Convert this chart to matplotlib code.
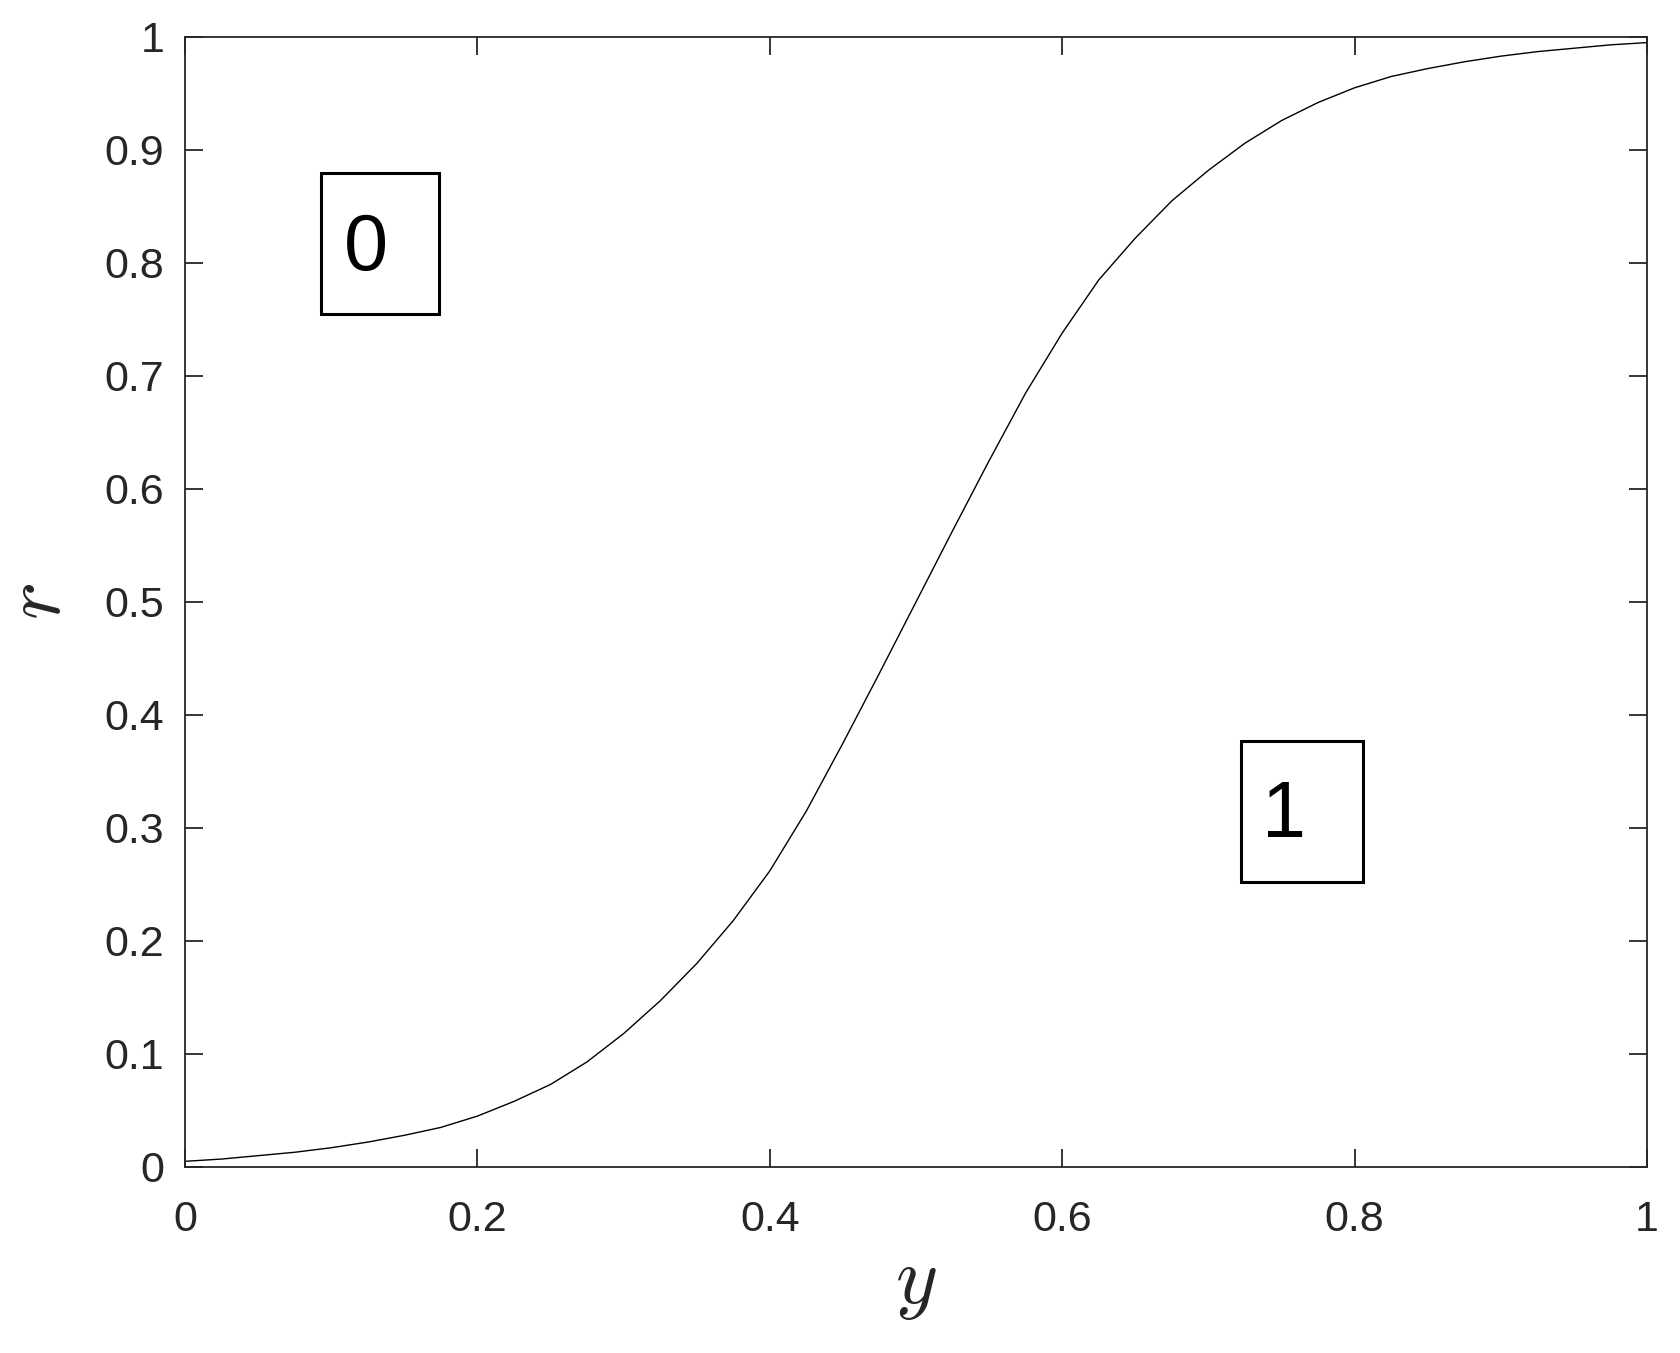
import matplotlib
matplotlib.use("Agg")
import matplotlib.pyplot as plt
from matplotlib.patches import Rectangle

# curve
y_vals = [0.0, 0.025, 0.05, 0.075, 0.1, 0.125, 0.15, 0.175, 0.2, 0.225, 0.25,
          0.275, 0.3, 0.325, 0.35, 0.375, 0.4, 0.425, 0.45, 0.475, 0.5, 0.525,
          0.55, 0.575, 0.6, 0.625, 0.65, 0.675, 0.7, 0.725, 0.75, 0.775, 0.8,
          0.825, 0.85, 0.875, 0.9, 0.925, 0.95, 0.975, 1.0]
r_vals = [0.005, 0.007, 0.010, 0.013, 0.017, 0.022, 0.028, 0.035, 0.045, 0.058,
          0.073, 0.093, 0.118, 0.147, 0.180, 0.218, 0.262, 0.315, 0.375, 0.437,
          0.500, 0.563, 0.625, 0.685, 0.738, 0.785, 0.822, 0.855, 0.882, 0.906,
          0.926, 0.942, 0.955, 0.965, 0.972, 0.978, 0.983, 0.987, 0.990, 0.993,
          0.995]

# region labels: text, box (x0, y0, x1, y1), text centre
region_text = ["0", "1"]
region_box = [(0.093, 0.755, 0.174, 0.880), (0.722, 0.252, 0.806, 0.377)]
region_pos = [(0.124, 0.812), (0.752, 0.310)]

ticks = [0, 0.1, 0.2, 0.3, 0.4, 0.5, 0.6, 0.7, 0.8, 0.9, 1]
xticks = [0, 0.2, 0.4, 0.6, 0.8, 1]

plt.rcParams["font.family"] = ["Liberation Sans", "DejaVu Sans"]
plt.rcParams["mathtext.fontset"] = "cm"

fig = plt.figure(figsize=(16.8, 13.53), dpi=100)
ax = fig.add_axes([0.1101, 0.1375, 0.8703, 0.8352])

ax.plot(y_vals, r_vals, color="black", lw=1.0)

for txt, (x0, y0, x1, y1), (tx, ty) in zip(region_text, region_box, region_pos):
    ax.add_patch(Rectangle((x0, y0), x1 - x0, y1 - y0, fill=False,
                           edgecolor="black", lw=2.2))
    ax.text(tx, ty, txt, fontsize=57, ha="center", va="center", color="black")

ax.set_xlim(0, 1)
ax.set_ylim(0, 1)
ax.set_xticks(xticks)
ax.set_yticks(ticks)
ax.set_xticklabels([f"{t:g}" for t in xticks])
ax.set_yticklabels([f"{t:g}" for t in ticks])

dark = "#262626"
ax.tick_params(direction="in", length=13, width=1.3, colors=dark,
               labelsize=31, top=True, right=True)
ax.tick_params(axis="x", pad=24)
ax.tick_params(axis="y", pad=15)
for s in ax.spines.values():
    s.set_color(dark)
    s.set_linewidth(1.3)

ax.set_xlabel(r"$y$", fontsize=58, color=dark, labelpad=4)
ax.set_ylabel(r"$r$", fontsize=58, color=dark, labelpad=20)

fig.savefig("out.png", dpi=100)
